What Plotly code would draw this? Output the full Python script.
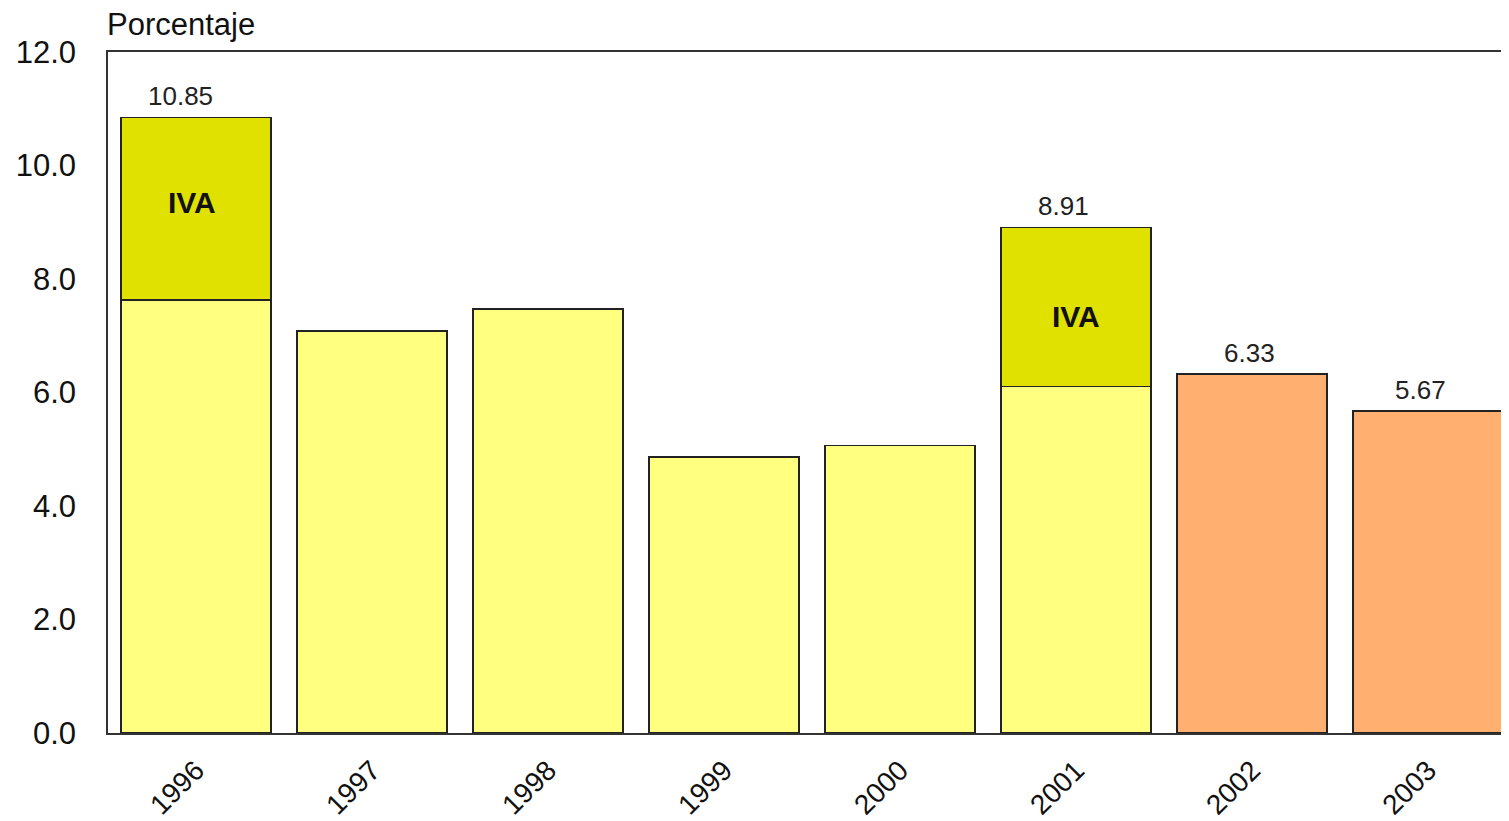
import plotly.graph_objects as go

years = ["1996", "1997", "1998", "1999", "2000", "2001", "2002", "2003"]
base_values = [7.63, 7.08, 7.47, 4.86, 5.07, 6.11, 6.33, 5.67]
iva_values = [3.22, 0, 0, 0, 0, 2.80, 0, 0]
total_labels = {"1996": "10.85", "2001": "8.91", "2002": "6.33", "2003": "5.67"}
label_shift = {"1996": -16, "2001": -13, "2002": -3, "2003": -8}
iva_shift = {"1996": (0, 6), "2001": (4, -10)}

LIGHT = "#FFFF80"
ORANGE = "#FFB070"
IVA = "#E1E100"
EDGE = "#222222"
FONT = "Liberation Sans, Arial, sans-serif"

base_colors = [ORANGE if y in ("2002", "2003") else LIGHT for y in years]

fig = go.Figure()
fig.add_trace(
    go.Bar(
        x=years,
        y=base_values,
        marker=dict(color=base_colors, line=dict(color=EDGE, width=1.5)),
        hoverinfo="skip",
    )
)
fig.add_trace(
    go.Bar(
        x=years,
        y=[v if v > 0 else None for v in iva_values],
        marker=dict(color=IVA, line=dict(color=EDGE, width=1.5)),
        hoverinfo="skip",
    )
)

# value labels above the bars (x as category index)
for yr, txt in total_labels.items():
    i = years.index(yr)
    fig.add_annotation(
        x=i,
        y=base_values[i] + iva_values[i],
        xref="x",
        yref="y",
        text=txt,
        showarrow=False,
        yanchor="bottom",
        yshift=4,
        xshift=label_shift[yr],
        font=dict(family=FONT, size=26, color="#222222"),
    )

# "IVA" inside the darker segments
for i, yr in enumerate(years):
    if iva_values[i] > 0:
        dx, dy = iva_shift[yr]
        fig.add_annotation(
            x=i,
            y=base_values[i] + iva_values[i] / 2,
            xref="x",
            yref="y",
            text="<b>IVA</b>",
            showarrow=False,
            xshift=dx - 4,
            yshift=dy,
            font=dict(family=FONT, size=30, color="#111111"),
        )

fig.add_annotation(
    text="Porcentaje",
    xref="paper",
    yref="paper",
    x=0,
    y=1,
    xanchor="left",
    yanchor="bottom",
    xshift=-3,
    yshift=8,
    showarrow=False,
    font=dict(family=FONT, size=31, color="#111111"),
)

# page body has an 8px margin, so the figure is sized to end at the window edge
fig.update_layout(
    width=1501,
    height=813,
    barmode="stack",
    bargap=0.15,
    showlegend=False,
    plot_bgcolor="white",
    paper_bgcolor="white",
    margin=dict(l=100, r=0, t=44, b=88),
    font=dict(family=FONT, color="#111111"),
)
fig.update_xaxes(
    type="category",
    range=[-0.5, 7.46],
    automargin=False,
    showline=True,
    linecolor="#333333",
    linewidth=1.5,
    mirror=True,
    showgrid=False,
    ticks="",
    tickangle=-45,
    ticklabelstandoff=8,
    tickfont=dict(family=FONT, size=28, color="#111111"),
)
fig.update_yaxes(
    range=[0, 12],
    dtick=2,
    tickformat=".1f",
    automargin=False,
    showline=True,
    linecolor="#333333",
    linewidth=1.5,
    showgrid=False,
    zeroline=False,
    ticks="",
    ticklabelstandoff=24,
    tickfont=dict(family=FONT, size=31, color="#111111"),
)

fig.write_html("out.html")
